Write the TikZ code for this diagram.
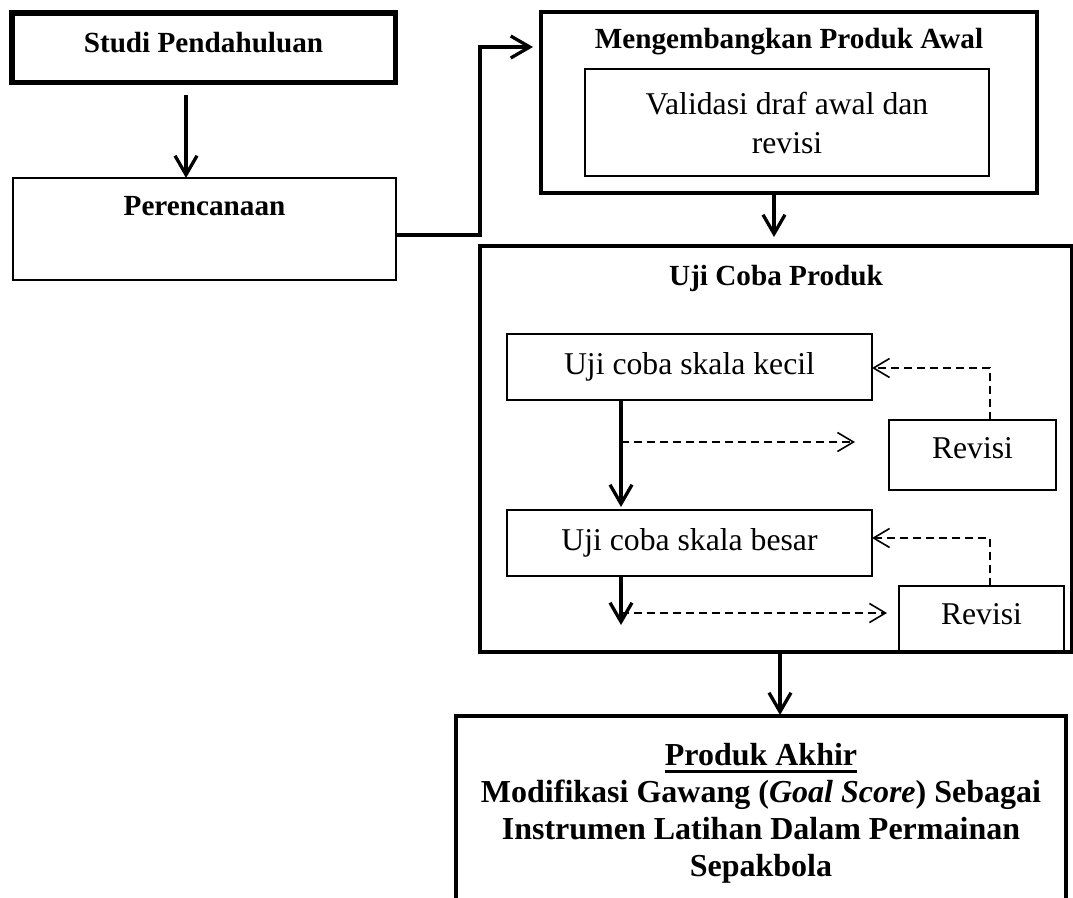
\documentclass[tikz,border=0pt]{standalone}
\usepackage{fontspec}
\setmainfont{Liberation Serif}
\usetikzlibrary{arrows.meta}
\newcommand\ulbar[1]{\setbox0\hbox{#1}\rlap{\rule[-7.7pt]{\wd0}{3.6pt}}\box0}
\begin{document}
\begin{tikzpicture}[x=1pt,y=-1pt,
  box/.style={draw=black, rectangle, inner sep=0pt, outer sep=0pt, align=center},
  thinbox/.style={box, line width=2.3pt, font=\fontsize{31.7}{39}\selectfont},
  thickbox/.style={box, line width=4pt, font=\fontsize{29.2}{35}\selectfont\bfseries},
  arr/.style={line width=3.3pt, -{Straight Barb[length=19pt,width=22pt]}},
  darr/.style={line width=1.6pt, dash pattern=on 8pt off 5pt, -{Straight Barb[length=16pt,width=19pt]}},
]
\fill[white] (0,0) rectangle (1073,897);
\useasboundingbox (0,0) rectangle (1073,897);

% boxes
\node[thickbox, line width=5.5pt, minimum width=383.5pt, minimum height=69.5pt, text height=20pt, text depth=11pt] (studi) at (203.5,47.5) {Studi Pendahuluan};
\node[thinbox, font=\fontsize{29.2}{35}\selectfont\bfseries, minimum width=383pt, minimum height=102pt, text height=37pt, text depth=65pt] (peren) at (204.5,229) {Perencanaan};
\node[thickbox, minimum width=496pt, minimum height=181pt, text height=36pt, text depth=145pt] (meng) at (789,102.5) {Mengembangkan Produk Awal};
\node[thinbox, minimum width=404pt, minimum height=107pt] (valid) at (787,122.5) {Validasi draf awal dan\\revisi};
\node[thickbox, minimum width=592pt, minimum height=406pt, text height=39pt, text depth=367pt] (uji) at (776,449) {Uji Coba Produk};
\node[thinbox, minimum width=365pt, minimum height=66pt] (kecil) at (689.5,367) {Uji coba skala kecil};
\node[thinbox, minimum width=365pt, minimum height=66pt] (besar) at (689.5,543) {Uji coba skala besar};
\node[thinbox, minimum width=167pt, minimum height=70pt, text height=21pt, text depth=15pt] (rev1) at (972.5,455) {Revisi};
\node[thinbox, minimum width=165pt, minimum height=66pt, text height=21pt, text depth=11pt] (rev2) at (981.5,619) {Revisi};
\node[thickbox, font=\fontsize{32}{37}\selectfont\bfseries, anchor=north, minimum width=610pt, inner ysep=27.4pt] (akhir) at (761,716) {\ulbar{Produk Akhir}\\Modifikasi Gawang (\textit{Goal Score}) Sebagai\\Instrumen Latihan Dalam Permainan\\Sepakbola};

% connectors
\coordinate (s1) at (186,95);
\draw[arr] (s1) -- (s1 |- peren.north);
\coordinate (c1) at (480,235);
\coordinate (c2) at (533,47);
\draw[arr] (c1 -| peren.east) -- (c1) |- (c2);
\coordinate (m1) at (774,237);
\draw[arr] (m1 |- meng.south) -- (m1);
\coordinate (v1) at (621,507);
\draw[arr] (kecil.south -| v1) -- (v1);
\coordinate (d1) at (621,442);
\coordinate (d1e) at (855,442);
\draw[darr] (d1) -- (d1e);
\coordinate (f1) at (990,368);
\draw[darr] (rev1.north -| f1) |- (kecil.east |- f1);
\coordinate (v2) at (621,625);
\draw[arr] (besar.south -| v2) -- (v2);
\coordinate (d2) at (621,613);
\coordinate (d2e) at (887,613);
\draw[darr] (d2) -- (d2e);
\coordinate (f2) at (990,538);
\draw[darr] (rev2.north -| f2) |- (besar.east |- f2);
\coordinate (u1) at (780,715);
\draw[arr] (uji.south -| u1) -- (u1);
\end{tikzpicture}
\end{document}
